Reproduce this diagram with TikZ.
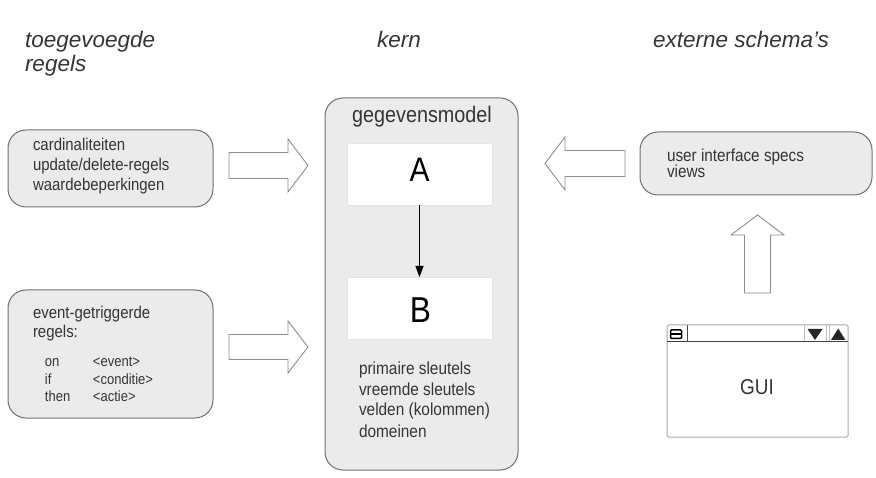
\documentclass[tikz,border=0pt]{standalone}
\usepackage{fontspec}
\setmainfont{Liberation Sans}[FakeStretch=0.88]
\newfontfamily\headfont{Liberation Sans}
\usetikzlibrary{arrows.meta}

\definecolor{boxfill}{HTML}{EBEBEB}
\definecolor{boxline}{HTML}{707070}
\definecolor{ink}{HTML}{353535}
\definecolor{arrline}{HTML}{8C8C96}
\definecolor{winline}{HTML}{A8A6B4}

\begin{document}
\begin{tikzpicture}[x=1pt,y=-1pt,
  every node/.style={inner sep=0pt, outer sep=0pt, text=ink},
  panel/.style={draw=boxline, fill=boxfill, line width=1pt, rounded corners=18pt},
  entity/.style={fill=white, draw=black!10, line width=0.6pt},
  heading/.style={font=\headfont\fontsize{22.5}{24}\selectfont\itshape, align=left},
  body/.style={font=\fontsize{17}{20}\selectfont, align=left},
  hollow/.style={draw=arrline, fill=white, line width=0.9pt, line join=miter},
  link/.style={draw=black, line width=1.2pt, -{Triangle[length=11pt,width=8pt]}},
  wintri/.style={fill=black!85, draw=none},
]
\useasboundingbox (0,0) rectangle (876,478);

% column headings (a multi-line node sits on the baseline of its last line)
\node[heading, anchor=base west] (hrules) at (25,72) {toegevoegde\\regels};
\node[heading, anchor=base] (hcore) at (399,48) {kern};
\node[heading, anchor=base west] (hext) at (653,48) {externe schema’s};

% left column: added rules
\node[panel, minimum width=205pt, minimum height=77pt] (rules) at (110.5,168.5) {};
\node[body, anchor=base west] (rulestext) at (33,191)
  {cardinaliteiten\\update/delete-regels\\waardebeperkingen};

\node[panel, minimum width=205pt, minimum height=128pt] (events) at (110.5,354) {};
\node[body, anchor=base west] (evtitle) at (33,338) {event-getriggerde\\regels:};
\node[anchor=base west, font=\fontsize{14.8}{17.5}\selectfont] (evrows) at (45,367)
  {\begin{tabular}[t]{@{}p{48pt}@{}l@{}}
     on & <event>\\
     if & <conditie>\\
     then & <actie>
   \end{tabular}};

% core: the data model
\node[panel, minimum width=193pt, minimum height=372pt] (core) at (421.5,284) {};
\node[anchor=base, font=\fontsize{22.5}{22}\selectfont] (coretitle) at (422,123) {gegevensmodel};
\node[entity, minimum width=145pt, minimum height=62pt] (A) at (419.5,174) {};
\node[font=\fontsize{34}{34}\selectfont, text=black] (Alabel) at (419.5,170) {A};
\node[entity, minimum width=145pt, minimum height=62pt] (B) at (419.5,308) {};
\node[font=\fontsize{36}{36}\selectfont, text=black] (Blabel) at (420.5,310) {B};
\draw[link] (A) -- (B);
\node[body, anchor=base west, font=\fontsize{17.5}{21}\selectfont] (coretext) at (359,437)
  {primaire sleutels\\vreemde sleutels\\velden (kolommen)\\domeinen};

% right column: external schemas
\node[panel, minimum width=232pt, minimum height=63pt] (ext) at (756,163.5) {};
\node[body, anchor=base west, font=\fontsize{17.4}{16.5}\selectfont] (exttext) at (667,178)
  {user interface specs\\views};

% GUI window
\node[draw=winline, fill=white, line width=1pt, minimum width=181pt, minimum height=112pt,
      rounded corners=1.5pt] (gui) at (757.5,381) {};
\draw[draw=black!75, line width=1.4pt] (gui.west |- 0,341.5) -- (gui.east |- 0,341.5);
\draw[draw=black!70, line width=1pt] (687,325) -- (687,341.5);
\draw[draw=black!25, line width=0.8pt] (804,325) -- (804,341.5)
                                       (826,325) -- (826,341.5)
                                       (829,325) -- (829,341.5);
\draw[draw=black, line width=1.5pt, rounded corners=1pt] (670.5,330) rectangle (681.5,338.5);
\draw[draw=black, line width=1.4pt] (671,334.2) -- (681,334.2);
\fill[wintri] (807.5,329) -- (822.5,329) -- (815,340) -- cycle;
\fill[wintri] (831,340) -- (845.5,340) -- (838.2,328.5) -- cycle;
\node[font=\fontsize{21.5}{21}\selectfont] (guitext) at (757,387) {GUI};

% hollow block arrows feeding the core
\path[hollow] (229,152.5) -- (288,152.5) -- (288,139) -- (308,165.5)
              -- (288,192) -- (288,178.5) -- (229,178.5) -- cycle;
\path[hollow] (229,334.5) -- (288,334.5) -- (288,321) -- (308,347)
              -- (288,373) -- (288,359.5) -- (229,359.5) -- cycle;
\path[hollow] (625,150.5) -- (565,150.5) -- (565,137) -- (545,163.5)
              -- (565,190) -- (565,176.5) -- (625,176.5) -- cycle;
\path[hollow] (744.5,293) -- (744.5,235) -- (731,235) -- (757.5,215)
              -- (784,235) -- (770.5,235) -- (770.5,293) -- cycle;
\end{tikzpicture}
\end{document}
